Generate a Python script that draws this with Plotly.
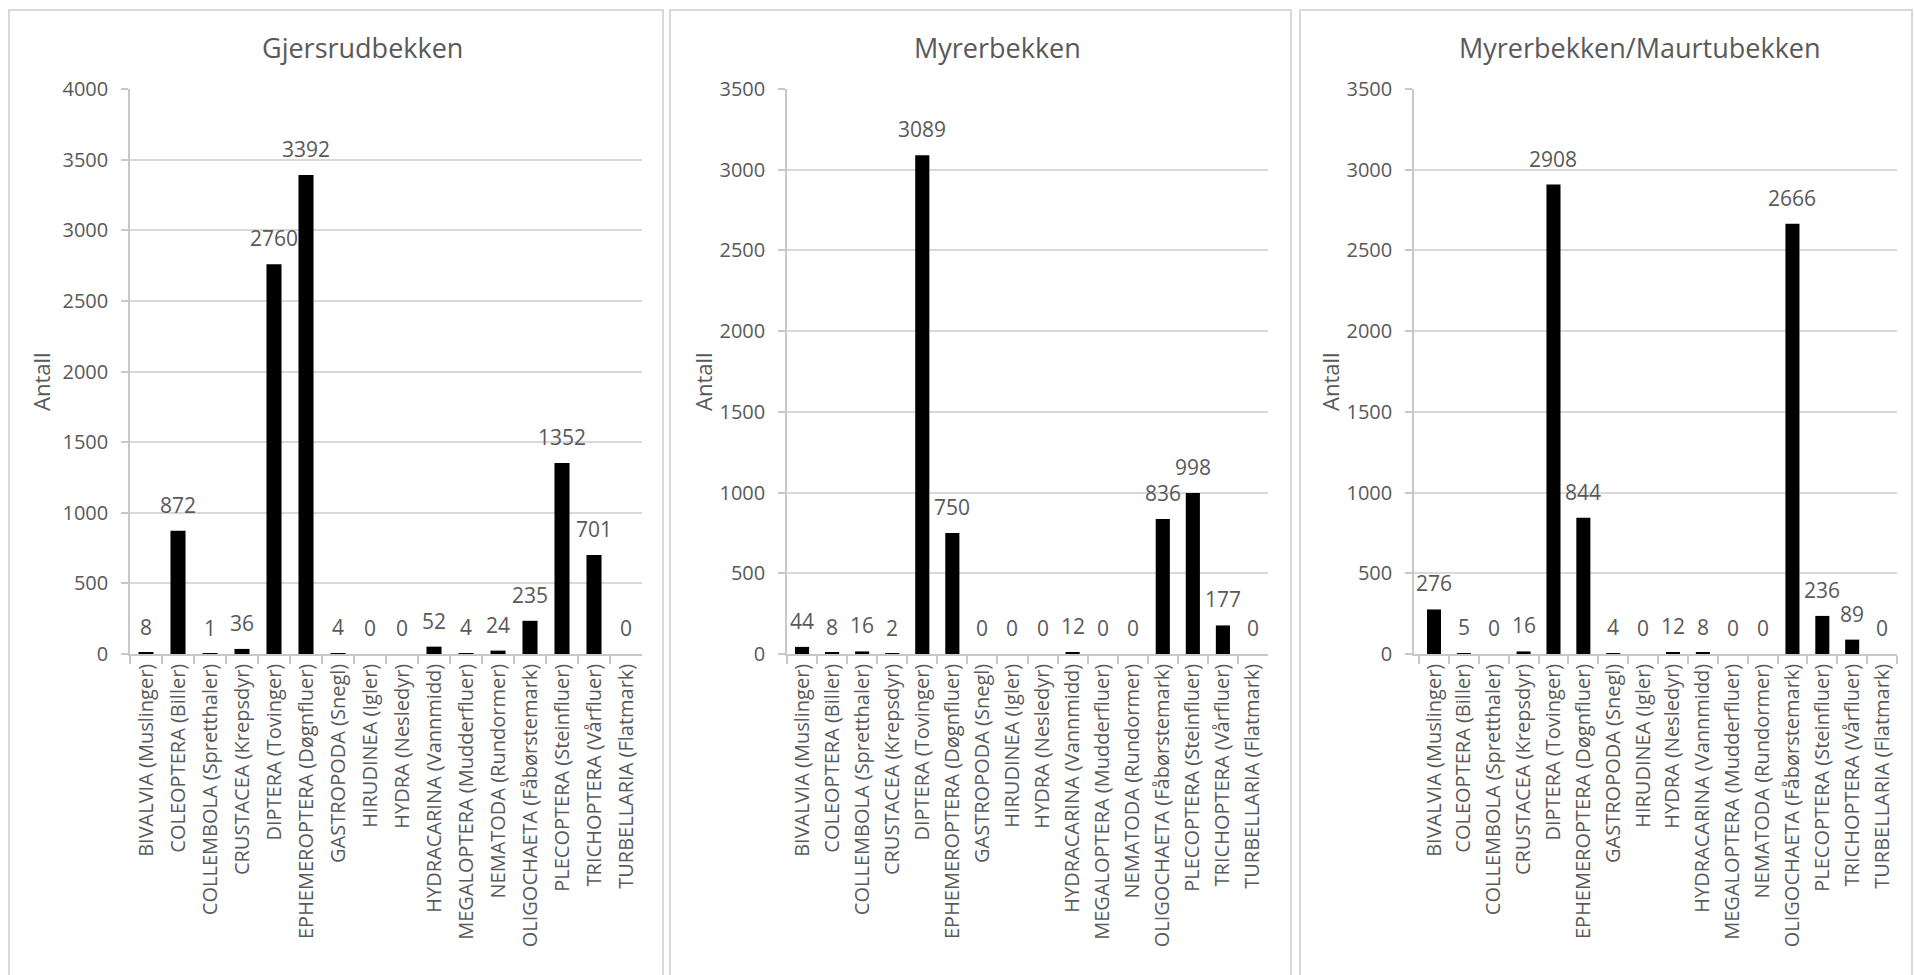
import plotly.graph_objects as go

categories = ["BIVALVIA (Muslinger)", "COLEOPTERA (Biller)", "COLLEMBOLA (Spretthaler)",
              "CRUSTACEA (Krepsdyr)", "DIPTERA (Tovinger)", "EPHEMEROPTERA (Døgnfluer)",
              "GASTROPODA (Snegl)", "HIRUDINEA (Igler)", "HYDRA (Nesledyr)",
              "HYDRACARINA (Vannmidd)", "MEGALOPTERA (Mudderfluer)", "NEMATODA (Rundormer)",
              "OLIGOCHAETA (Fåbørstemark)", "PLECOPTERA (Steinfluer)", "TRICHOPTERA (Vårfluer)",
              "TURBELLARIA (Flatmark)"]
gjersrud = [8, 872, 1, 36, 2760, 3392, 4, 0, 0, 52, 4, 24, 235, 1352, 701, 0]
myrer = [44, 8, 16, 2, 3089, 750, 0, 0, 0, 12, 0, 0, 836, 998, 177, 0]
maurtu = [276, 5, 0, 16, 2908, 844, 4, 0, 12, 8, 0, 0, 2666, 236, 89, 0]
titles = ["Gjersrudbekken", "Myrerbekken", "Myrerbekken/Maurtubekken"]
ymax = [4000, 3500, 3500]
series = [gjersrud, myrer, maurtu]

W, H = 1914, 975
FONT = "Open Sans"
GRAY = "#595959"
GRID = "#d9d9d9"
AXIS = "#c8c8c8"


def px(x):
    return x / W


def py(y):
    return 1 - y / H


plot_x = [(130, 642), (787, 1268), (1414, 1897)]
plot_y = (89, 654)
panels = [(9, 663), (670, 1291), (1300, 1912)]
title_x = [362, 997, 1640]
ytitle_x = [41, 703, 1330]

fig = go.Figure()
for i, vals in enumerate(series):
    n = "" if i == 0 else str(i + 1)
    fig.add_trace(go.Bar(
        x=categories, y=vals, xaxis="x" + n, yaxis="y" + n,
        marker=dict(color="black", line=dict(width=0)),
        showlegend=False, width=0.47, hoverinfo="x+y",
    ))
    for c, v in zip(categories, vals):
        fig.add_annotation(text=str(v), x=c, y=v, xref="x" + n, yref="y" + n,
                           showarrow=False, xanchor="center", yanchor="bottom",
                           yshift=10, font=dict(size=21, color=GRAY, family=FONT))
    fig.update_layout(**{
        "xaxis" + n: dict(
            domain=[px(plot_x[i][0]), px(plot_x[i][1])], anchor="y" + n,
            type="category", tickangle=-90, tickson="boundaries",
            ticks="outside", ticklen=8, tickcolor=AXIS, tickwidth=1.5,
            showline=True, linecolor=AXIS, linewidth=1.5,
            tickfont=dict(size=20, color=GRAY, family=FONT),
            showgrid=False, automargin=False,
        ),
        "yaxis" + n: dict(
            domain=[py(plot_y[1]), py(plot_y[0])], anchor="x" + n,
            range=[0, ymax[i]], dtick=500, tick0=0,
            showgrid=True, gridcolor=GRID, gridwidth=1.5,
            showline=True, linecolor=AXIS, linewidth=1.5,
            ticks="outside", ticklen=7, tickcolor=AXIS, tickwidth=1.5,
            ticklabelstandoff=9,
            tickfont=dict(size=20, color=GRAY, family=FONT),
            zeroline=False, automargin=False,
        ),
    })
    fig.add_shape(type="rect", xref="paper", yref="paper",
                  x0=px(panels[i][0]), x1=px(panels[i][1]), y0=py(990), y1=py(10),
                  line=dict(color=GRID, width=2), fillcolor="rgba(0,0,0,0)", layer="below")
    fig.add_annotation(text=titles[i], xref="paper", yref="paper",
                       x=px(title_x[i]), y=py(47), showarrow=False,
                       xanchor="center", yanchor="middle",
                       font=dict(size=27, color=GRAY, family=FONT))
    fig.add_annotation(text="Antall", xref="paper", yref="paper",
                       x=px(ytitle_x[i]), y=py(382), showarrow=False, textangle=-90,
                       xanchor="center", yanchor="middle",
                       font=dict(size=22, color=GRAY, family=FONT))

fig.update_layout(width=W, height=H,
                  margin=dict(l=0, r=0, t=0, b=0, pad=0, autoexpand=False),
                  paper_bgcolor="white", plot_bgcolor="white")
fig.write_html("out.html", config={"displayModeBar": False},
               post_script="document.body.style.margin='0px';document.body.style.overflow='hidden';")
